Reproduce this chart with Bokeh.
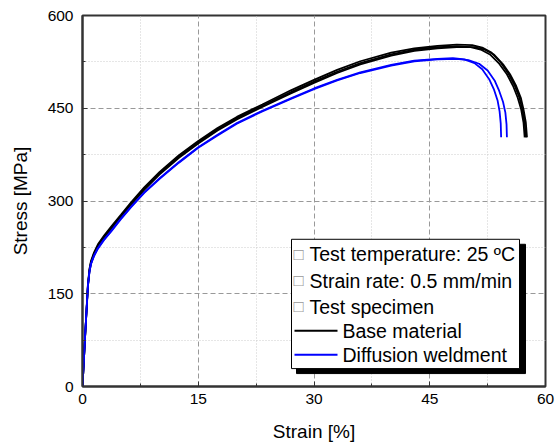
from bokeh.plotting import figure
from bokeh.models import Range1d, FixedTicker, BoxAnnotation, Label
from bokeh.embed import file_html
from bokeh.resources import INLINE

# ---- data ----
base1_strain = [0, 0.35, 0.7, 0.9, 1.1, 1.5, 2.0, 2.8, 3.8, 5.0, 6.3, 8.0, 10.0, 12.5, 15.0, 17.5, 20.0, 23.3, 27.0, 30.0, 33.0, 36.0, 40.0, 43.0, 46.0, 48.5, 50.5, 51.8, 53.0, 54.2, 55.2, 56.0, 56.6, 57.0, 57.3, 57.45]
base1_stress = [0, 85, 165, 190, 203, 217, 230, 244, 260, 278, 298, 322, 347, 374, 397, 418, 436, 456, 479, 496, 512, 526, 540, 547, 551, 553, 552, 548, 540, 524, 506, 487, 468, 448, 427, 403]

base2_strain = [0, 0.35, 0.7, 0.9, 1.1, 1.5, 2.0, 2.8, 3.8, 5.0, 6.3, 8.0, 10.0, 12.5, 15.0, 17.5, 20.0, 23.3, 27.0, 30.0, 33.0, 36.0, 40.0, 43.0, 46.0, 48.5, 50.3, 51.6, 52.8, 54.0, 55.0, 55.8, 56.4, 56.85, 57.15, 57.3]
base2_stress = [0, 84, 163, 188, 201, 215, 228, 242, 258, 276, 296, 320, 345, 372, 395, 416, 434, 454, 476, 493, 509, 523, 537, 545, 549, 550, 549, 545, 537, 522, 505, 486, 467, 448, 427, 403]

base3_strain = [0, 0.35, 0.7, 0.9, 1.1, 1.5, 2.0, 2.8, 3.8, 5.0, 6.3, 8.0, 10.0, 12.5, 15.0, 17.5, 20.0, 23.3, 27.0, 30.0, 33.0, 36.0, 40.0, 43.0, 46.0, 48.5, 50.8, 52.1, 53.3, 54.5, 55.4, 56.2, 56.8, 57.15, 57.45, 57.6]
base3_stress = [0, 83, 161, 186, 199, 213, 226, 240, 256, 274, 294, 318, 343, 370, 393, 414, 432, 452, 474, 491, 507, 521, 535, 543, 547, 549, 549, 545, 537, 521, 505, 486, 467, 448, 427, 403]

weld1_strain = [0, 0.35, 0.7, 0.9, 1.1, 1.5, 2.0, 2.8, 3.8, 5.0, 6.3, 8.0, 10.0, 12.5, 15.0, 17.5, 20.0, 23.3, 27.0, 30.0, 33.0, 36.0, 40.0, 43.0, 46.0, 48.0, 49.5, 50.8, 51.8, 52.7, 53.3, 53.8, 54.05, 54.2, 54.25]
weld1_stress = [0, 85, 163, 186, 199, 212, 224, 238, 253, 272, 291, 314, 337, 363, 387, 407, 426, 446, 466, 482, 496, 508, 520, 527, 530, 531, 529, 523, 513, 497, 481, 462, 445, 425, 403]

weld2_strain = [0, 0.35, 0.7, 0.9, 1.1, 1.5, 2.0, 2.8, 3.8, 5.0, 6.3, 8.0, 10.0, 12.5, 15.0, 17.5, 20.0, 23.3, 27.0, 30.0, 33.0, 36.0, 40.0, 43.0, 46.0, 48.5, 50.0, 51.4, 52.5, 53.4, 54.0, 54.5, 54.8, 54.95, 55.0]
weld2_stress = [0, 84, 162, 185, 198, 211, 223, 237, 252, 271, 290, 313, 336, 362, 386, 406, 425, 445, 465, 481, 495, 507, 519, 526, 529, 530, 528, 522, 511, 495, 478, 460, 443, 424, 403]

x_ticks = [0, 15, 30, 45, 60]
x_minor = [7.5, 22.5, 37.5, 52.5]
y_ticks = [0, 150, 300, 450, 600]
y_minor = [75, 225, 375, 525]

legend_texts = ["Test temperature: 25 \u00baC", "Strain rate: 0.5 mm/min", "Test specimen"]
legend_series = ["Base material", "Diffusion weldment"]
legend_colors = ["black", "#0000ff"]

FONT = "Liberation Sans"

p = figure(width=555, height=444, output_backend="svg", toolbar_location=None,
           x_range=Range1d(0, 60), y_range=Range1d(0, 600),
           min_border_left=82, min_border_right=10, min_border_top=15, min_border_bottom=56)
p.background_fill_color = "white"
p.border_fill_color = "white"
p.outline_line_color = "#333333"
p.outline_line_width = 2

for ax, ticks, minor in ((p.xaxis[0], x_ticks, x_minor), (p.yaxis[0], y_ticks, y_minor)):
    ax.ticker = FixedTicker(ticks=ticks, minor_ticks=minor)
    ax.axis_line_color = "#333333"
    ax.axis_line_width = 2
    ax.major_tick_in = 5
    ax.major_tick_out = 0
    ax.minor_tick_in = 3
    ax.minor_tick_out = 0
    ax.major_tick_line_color = "#333333"
    ax.minor_tick_line_color = "#333333"
    ax.major_label_text_font = FONT
    ax.major_label_text_font_size = "15.5px"
    ax.major_label_text_color = "black"
    ax.axis_label_text_font = FONT
    ax.axis_label_text_font_size = "19px"
    ax.axis_label_text_font_style = "normal"
    ax.axis_label_text_color = "black"

p.xaxis.axis_label = "Strain [%]"
p.yaxis.axis_label = "Stress [MPa]"
p.xaxis.major_label_standoff = 7
p.xaxis.axis_label_standoff = 14
p.yaxis.major_label_standoff = 9
p.yaxis.axis_label_standoff = 14

for g, ticks, minor in ((p.xgrid[0], x_ticks, x_minor), (p.ygrid[0], y_ticks, y_minor)):
    g.ticker = FixedTicker(ticks=ticks, minor_ticks=minor)
    g.grid_line_color = "#999999"
    g.grid_line_dash = "5 3"
    g.grid_line_width = 1
    g.minor_grid_line_color = "#cccccc"
    g.minor_grid_line_dash = "1 2"
    g.minor_grid_line_width = 1

for xs, ys in ((base1_strain, base1_stress), (base2_strain, base2_stress), (base3_strain, base3_stress)):
    p.line(xs, ys, line_color="black", line_width=1.8)
for xs, ys in ((weld1_strain, weld1_stress), (weld2_strain, weld2_stress)):
    p.line(xs, ys, line_color="#0000ff", line_width=1.8)

# ---- legend (drawn by hand, with shadow) ----
sx = 60 / 463.0   # data units per pixel in x
sy = 600 / 373.0  # data units per pixel in y
def px_x(px):
    return (px - 82) * sx
def px_y(py):
    return (388 - py) * sy

shadow = BoxAnnotation(left=px_x(296), right=px_x(525), top=px_y(245), bottom=px_y(375),
                       fill_color="black", fill_alpha=1, line_color="black", line_alpha=1)
box = BoxAnnotation(left=px_x(291), right=px_x(519), top=px_y(240), bottom=px_y(370),
                    fill_color="white", fill_alpha=1, line_color="black", line_width=1, line_alpha=1)
p.add_layout(shadow)
p.add_layout(box)

rows_y = [255, 281.5, 308, 332, 356]
for i, t in enumerate(legend_texts):
    p.add_layout(Label(x=px_x(293), y=px_y(rows_y[i]), text="\u25a1", text_font=FONT,
                       text_font_size="17px", text_color="#999999", text_baseline="middle",
                       text_align="left"))
    p.add_layout(Label(x=px_x(309), y=px_y(rows_y[i]), text=t, text_font=FONT,
                       text_font_size="19.5px", text_color="black", text_baseline="middle",
                       text_align="left"))
for j, t in enumerate(legend_series):
    yy = px_y(rows_y[3 + j])
    p.line([px_x(294), px_x(337)], [yy, yy], line_color=legend_colors[j], line_width=2, level="overlay")
    p.add_layout(Label(x=px_x(342), y=yy, text=t, text_font=FONT,
                       text_font_size="19.5px", text_color="black", text_baseline="middle",
                       text_align="left", level="overlay"))

open("out.html", "w").write(file_html(p, INLINE))
